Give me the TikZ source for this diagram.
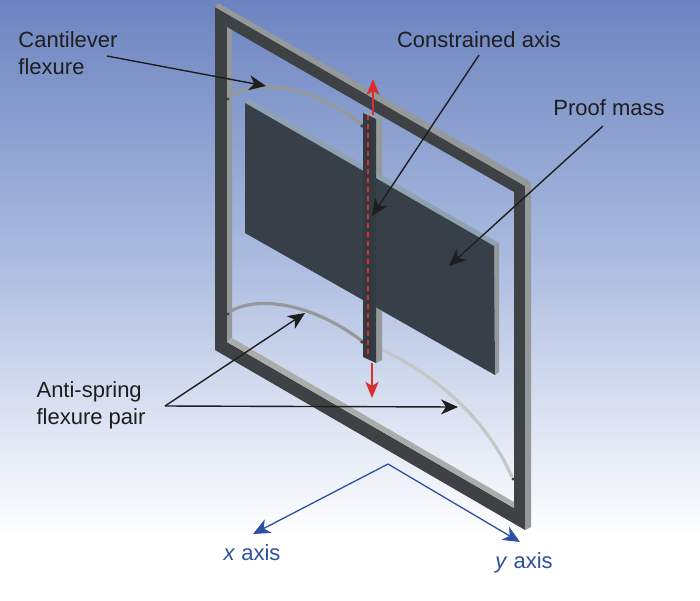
\documentclass[tikz,border=0pt]{standalone}
\usepackage{fontspec}
\setmainfont{Liberation Sans}
\usetikzlibrary{arrows.meta, positioning, calc}

\definecolor{skytop}{RGB}{108,132,192}
\definecolor{skymid}{RGB}{172,188,224}
\definecolor{framedark}{RGB}{62,66,68}
\definecolor{framelight}{RGB}{150,153,153}
\definecolor{massdark}{RGB}{55,63,72}
\definecolor{masstop}{RGB}{142,162,178}
\definecolor{axisblue}{RGB}{45,80,160}
\definecolor{arrowred}{RGB}{218,45,45}
\definecolor{labelblack}{RGB}{30,30,30}

\tikzset{
  label/.style={text=labelblack, font=\fontsize{22}{27}\selectfont, align=left, inner sep=0pt},
  axislabel/.style={text=axisblue, font=\fontsize{22}{26}\selectfont, inner sep=0pt},
  pointer/.style={-{Stealth[length=17pt, width=15pt, inset=5pt]}, line width=1.4pt, draw=labelblack},
  axisline/.style={-{Stealth[length=17pt, width=15pt, inset=5pt]}, line width=1.3pt, draw=axisblue},
  redline/.style={-{Stealth[length=16pt, width=13pt, inset=4pt]}, line width=1.3pt, draw=arrowred, arrowred},
  flexure/.style={line width=3.2pt, draw=framelight},
  joint/.style={fill=framedark},
}

\begin{document}
\begin{tikzpicture}[x=1pt, y=-1pt]
\useasboundingbox (0,0) rectangle (700,600);

% Fondo
\fill[white] (0,0) rectangle (700,600);
\shade[top color=skytop, bottom color=skymid] (0,0) rectangle (700,260);
\shade[top color=skymid, bottom color=white] (0,260) rectangle (700,535);

% Marco
\fill[framedark, even odd rule] (215,7) -- (525,186) -- (525,530) -- (215,350) -- cycle
  (227,27) -- (514,192) -- (514,508) -- (227,342) -- cycle;
\fill[framelight] (215,7) -- (218,3) -- (531,182) -- (525,186) -- cycle;
\fill[framelight] (525,186) -- (531,182) -- (531,527) -- (525,530) -- cycle;
\fill[framelight] (227,27) -- (232,30) -- (232,338) -- (227,342) -- cycle;
\fill[framelight!80!white] (227,342) -- (232,338) -- (514,502) -- (514,508) -- cycle;

% Flexiones
\draw[flexure] (228,98) .. controls (245,82) and (305,78) .. (362,125);
\draw[flexure] (228,313) .. controls (250,297) and (305,298) .. (362,341);
\draw[flexure, draw=framelight!55!white] (382,350) .. controls (430,372) and (485,415) .. (512,477);
\fill[joint] (228,99) circle (1.6pt);
\fill[joint] (362,126) circle (1.8pt);
\fill[joint] (228,314) circle (1.6pt);
\fill[joint] (362,342) circle (1.8pt);
\fill[joint] (513,479) circle (1.6pt);

% Masa
\fill[masstop] (245,103) -- (249,99) -- (499,243) -- (494,246) -- cycle;
\fill[framelight] (494,246) -- (499,243) -- (499,372) -- (495,375) -- cycle;
\fill[massdark] (245,103) -- (494,246) -- (495,375) -- (245,233) -- cycle;

% Vastago
\fill[framelight] (376,119) -- (382,117) -- (382,176) -- (376,173) -- cycle;
\fill[framelight] (376,308) -- (382,311) -- (382,360) -- (376,363) -- cycle;
\fill[masstop] (363,113) -- (369,111) -- (382,117) -- (376,119) -- cycle;
\fill[massdark!92!black] (363,113) -- (376,119) -- (376,363) -- (363,357) -- cycle;

% Etiquetas
\node[label] (cantilever) at (68,53) {Cantilever\\flexure};
\node[label] (constrained) at (479,40) {Constrained axis};
\node[label] (proof) at (609,108) {Proof mass};
\node[label] (antispring) at (91,405) {Anti-spring\\flexure pair};
\node[axislabel] (xaxis) at (252,553) {\textit{x} axis};
\node[axislabel] (yaxis) at (524,563) {\textit{y} axis};

% Puntos de las flechas
\coordinate (cantstart) at (107,56);
\coordinate (canttip) at (266,86);
\coordinate (constart) at (479,55);
\coordinate (contip) at (372,216);
\coordinate (proofstart) at (603,126);
\coordinate (prooftip) at (449,266);
\coordinate (antistart) at (165,406);
\coordinate (antitipa) at (305,313);
\coordinate (antitipb) at (458,407);
\coordinate (apex) at (388,464);
\coordinate (xtip) at (253,534);
\coordinate (ytip) at (520,542);
\coordinate (redtop) at (373,115);
\coordinate (redtoptip) at (373,79);
\coordinate (redbot) at (372,363);
\coordinate (redbottip) at (372,398);
\coordinate (dashtop) at (368,115);
\coordinate (dashbot) at (368,358);

% Flechas
\draw[redline] (redtop) -- (redtoptip);
\draw[redline] (redbot) -- (redbottip);
\draw[arrowred, line width=1.3pt, dash pattern=on 5pt off 4pt] (dashtop) -- (dashbot);
\draw[pointer] (cantstart) -- (canttip);
\draw[pointer] (constart) -- (contip);
\draw[pointer] (proofstart) -- (prooftip);
\draw[pointer] (antistart) -- (antitipa);
\draw[pointer] (antistart) -- (antitipb);
\draw[axisline] (apex) -- (xtip);
\draw[axisline] (apex) -- (ytip);

\end{tikzpicture}
\end{document}
